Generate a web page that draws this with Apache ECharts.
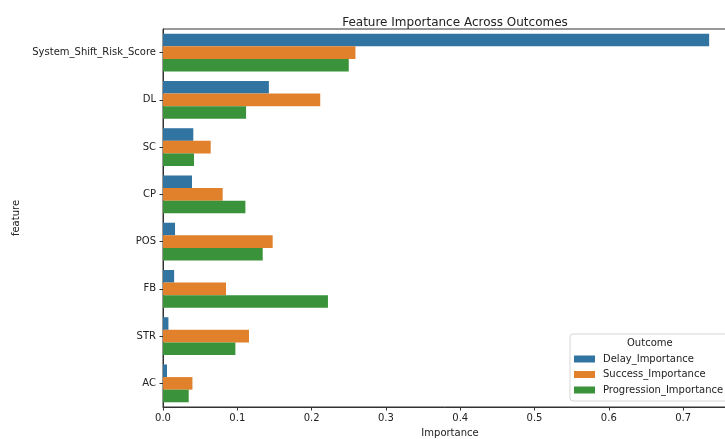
<!DOCTYPE html>
<html>
<head>
<meta charset="utf-8">
<script src="https://cdn.jsdelivr.net/npm/echarts@6/dist/echarts.min.js"></script>
<style>
  html, body { margin: 0; padding: 0; background: #fff; }
  #chart { width: 725px; height: 439px; }
</style>
</head>
<body>
<div id="chart"></div>
<script>
// Features, top to bottom
const features = ['System_Shift_Risk_Score', 'DL', 'SC', 'CP', 'POS', 'FB', 'STR', 'AC'];

// Importance per outcome
const delayImportance       = [0.735, 0.1425, 0.0408, 0.0390, 0.0162, 0.0150, 0.0073, 0.0054];
const successImportance     = [0.259, 0.2116, 0.0642, 0.0803, 0.1476, 0.0848, 0.1157, 0.0396];
const progressionImportance = [0.250, 0.1118, 0.0417, 0.1109, 0.1342, 0.2220, 0.0974, 0.0346];

const outcomeNames = ['Delay_Importance', 'Success_Importance', 'Progression_Importance'];
const outcomeColors = ['#3274a1', '#e1812c', '#3a923a'];
const xTicks = [0, 0.1, 0.2, 0.3, 0.4, 0.5, 0.6, 0.7];

const FONT = 'DejaVu Sans';
const chart = echarts.init(document.getElementById('chart'), null, { renderer: 'canvas' });

const seriesData = [delayImportance, successImportance, progressionImportance];

chart.setOption({
  animation: false,
  backgroundColor: '#ffffff',
  title: {
    text: 'Feature Importance Across Outcomes',
    left: 450,
    textAlign: 'center',
    top: 12,
    textStyle: { fontFamily: FONT, fontSize: 12, fontWeight: 'normal', color: '#222' }
  },
  grid: {
    left: 163,
    right: -12,
    top: 29,
    bottom: 32,
    show: true,
    borderColor: '#333',
    borderWidth: 1,
    containLabel: false,
    outerBoundsMode: 'none'
  },
  legend: {
    data: outcomeNames,
    orient: 'vertical',
    left: 570,
    top: 334,
    padding: [20, 6, 6, 4],
    itemWidth: 21,
    itemHeight: 7,
    itemGap: 5.5,
    icon: 'rect',
    backgroundColor: 'rgba(255,255,255,0.85)',
    borderColor: '#d6d6d6',
    borderWidth: 1,
    borderRadius: 3,
    textStyle: { fontFamily: FONT, fontSize: 10, color: '#222', padding: [0, 0, 0, 3] }
  },
  graphic: [{
    type: 'text',
    left: 627,
    top: 338,
    z: 100,
    zlevel: 1,
    style: { text: 'Outcome', font: '10px "DejaVu Sans"', fill: '#222' }
  }],
  xAxis: {
    type: 'value',
    min: 0,
    max: 0.7725,
    name: 'Importance',
    nameLocation: 'middle',
    nameGap: 21,
    nameTextStyle: { fontFamily: FONT, fontSize: 10, color: '#222' },
    splitLine: { show: false },
    axisLine: { show: true, lineStyle: { color: '#333', width: 1 } },
    axisTick: { show: true, length: 3.5, customValues: xTicks, lineStyle: { color: '#333' } },
    axisLabel: {
      customValues: xTicks,
      fontFamily: FONT, fontSize: 10, color: '#222', margin: 6,
      formatter: v => v.toFixed(1)
    }
  },
  yAxis: {
    type: 'category',
    data: features,
    inverse: true,
    name: 'feature',
    nameLocation: 'middle',
    nameGap: 134,
    nameRotate: 90,
    nameTextStyle: { fontFamily: FONT, fontSize: 10, color: '#222' },
    axisLine: { show: true, lineStyle: { color: '#333', width: 1 } },
    axisTick: { show: true, length: 3.5, alignWithLabel: true, lineStyle: { color: '#333' } },
    axisLabel: { fontFamily: FONT, fontSize: 10, color: '#222', margin: 7 },
    splitLine: { show: false }
  },
  series: outcomeNames.map((name, i) => ({
    name,
    type: 'bar',
    data: seriesData[i],
    barGap: '0%',
    barCategoryGap: '20%',
    itemStyle: { color: outcomeColors[i] },
    emphasis: { disabled: true }
  }))
});
</script>
</body>
</html>
